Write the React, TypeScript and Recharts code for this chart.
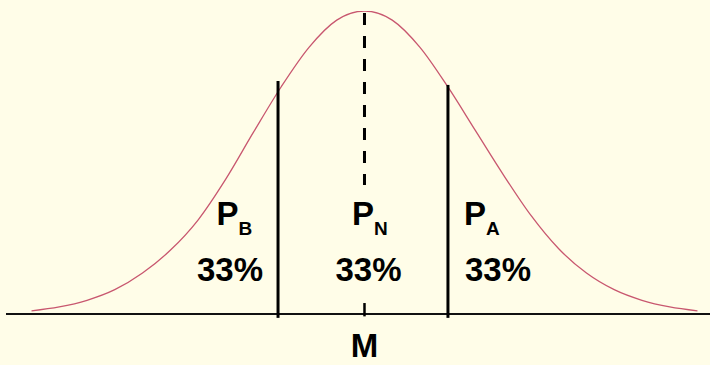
import { ComposedChart, Line, XAxis, YAxis, ReferenceLine, ReferenceDot } from 'recharts';

// curve: x in sigma units from the mean, height relative to the peak
const zs = [-3, -2.75, -2.5, -2.25, -2, -1.75, -1.5, -1.25, -1, -0.75, -0.5, -0.25, 0, 0.25, 0.5, 0.75, 1, 1.25, 1.5, 1.75, 2, 2.25, 2.5, 2.75, 3];
const heights = [0.01, 0.023, 0.045, 0.08, 0.135, 0.21, 0.31, 0.445, 0.6, 0.75, 0.88, 0.97, 1, 0.97, 0.88, 0.75, 0.605, 0.46, 0.325, 0.215, 0.135, 0.08, 0.045, 0.023, 0.01];

// tertile cut lines and where they stop
const cuts = [-0.779, 0.752];
const cutTops = [0.769, 0.756];

// dashed mean line: upper part stops above the label, short piece at the axis
const meanUpper = [0.993, 0.426];
const meanLower = [0.036, -0.008];

const regionNames = ['B', 'N', 'A'];
const regionShares = ['33%', '33%', '33%'];
const nameX = [-1.333, -0.113, 0.896];
const shareX = [-1.212, 0.036, 1.203];
const nameY = 0.294;
const shareY = 0.109;

const data = zs.map((z, i) => ({ z, h: heights[i] }));

const FONT = '"Liberation Sans", Arial, sans-serif';

const NameLabel = (sub: string) => (props: any) => {
  const vb = props.viewBox || {};
  const x = vb.x + (vb.width || 0) / 2;
  const y = vb.y + (vb.height || 0) / 2;
  return (
    <text x={x} y={y} fontFamily={FONT} fontWeight="bold" fontSize={33} fill="#000">
      <tspan>P</tspan>
      <tspan fontSize={19} dx={0} dy={10}>{sub}</tspan>
    </text>
  );
};

const ShareLabel = (txt: string) => (props: any) => {
  const vb = props.viewBox || {};
  const x = vb.x + (vb.width || 0) / 2;
  const y = vb.y + (vb.height || 0) / 2;
  return (
    <text x={x} y={y} textAnchor="middle" fontFamily={FONT} fontWeight="bold" fontSize={33} fill="#000">
      {txt}
    </text>
  );
};

export default function App() {
  return (
    <div style={{ position: 'absolute', left: 0, top: 0, width: 710, height: 365, background: '#fffde8' }}>
      <ComposedChart width={710} height={365} data={data} margin={{ top: 11, right: 0, bottom: 15, left: 0 }}>
        <XAxis
          dataKey="z"
          type="number"
          domain={[-3.284, 3.113]}
          allowDataOverflow
          ticks={[0]}
          tickFormatter={() => 'M'}
          axisLine={false}
          tickLine={false}
          height={30}
          tickMargin={8}
          tick={{ fontSize: 33, fontWeight: 'bold', fill: '#000', fontFamily: FONT }}
        />
        <YAxis hide width={0} domain={[-0.02, 1]} allowDataOverflow />
        <ReferenceLine segment={[{ x: -3.23, y: 0 }, { x: 3.113, y: 0 }]} stroke="#111" strokeWidth={2} />
        <Line type="monotone" dataKey="h" stroke="#c8576f" strokeWidth={1.3} dot={false} isAnimationActive={false} />
        <ReferenceLine segment={[{ x: 0, y: meanUpper[0] }, { x: 0, y: meanUpper[1] }]} stroke="#000" strokeWidth={3} strokeDasharray="12 11" />
        <ReferenceLine segment={[{ x: 0, y: meanLower[0] }, { x: 0, y: meanLower[1] }]} stroke="#000" strokeWidth={2.5} />
        {cuts.map((c, i) => (
          <ReferenceLine key={'c' + i} segment={[{ x: c, y: cutTops[i] }, { x: c, y: -0.013 }]} stroke="#000" strokeWidth={3} />
        ))}
        {regionNames.map((n, i) => (
          <ReferenceDot key={'n' + i} x={nameX[i]} y={nameY} r={1} fill="none" stroke="none" label={NameLabel(n)} />
        ))}
        {regionShares.map((s, i) => (
          <ReferenceDot key={'s' + i} x={shareX[i]} y={shareY} r={1} fill="none" stroke="none" label={ShareLabel(s)} />
        ))}
      </ComposedChart>
    </div>
  );
}
